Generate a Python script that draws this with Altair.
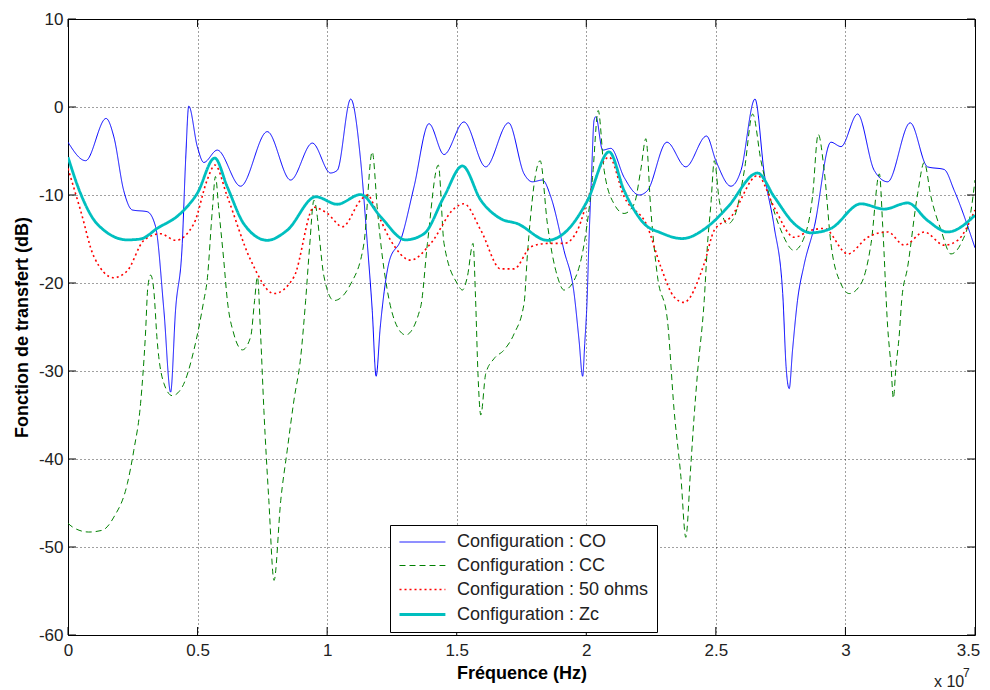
import altair as alt
import pandas as pd

# Frequencies in units of 10^7 Hz, transfer function in dB
co_x = [0, 0.068, 0.147, 0.177, 0.215, 0.248, 0.306, 0.338, 0.37, 0.396, 0.415, 0.441, 0.454, 0.466,
        0.499, 0.524, 0.576, 0.666, 0.769, 0.859, 0.943, 1.013, 1.039, 1.091, 1.129, 1.155, 1.174,
        1.189, 1.205, 1.22, 1.24, 1.284, 1.335, 1.393, 1.451, 1.528, 1.612, 1.700, 1.760, 1.792,
        1.831, 1.863, 1.914, 1.953, 1.972, 1.986, 1.994, 2.003, 2.01, 2.02, 2.03, 2.037, 2.063,
        2.095, 2.146, 2.204, 2.236, 2.311, 2.384, 2.464, 2.5, 2.558, 2.597, 2.651, 2.687, 2.725,
        2.758, 2.771, 2.783, 2.796, 2.815, 2.84, 2.88, 2.944, 2.983, 3.047, 3.111, 3.163, 3.250,
        3.317, 3.381, 3.42, 3.5]
co_y = [-4.0, -6.1, -1.3, -3.4, -9.5, -11.7, -11.9, -13.6, -23.1, -32.4, -23.1, -15.5, -6.0, 0.1,
        -4.5, -6.3, -4.9, -9.0, -2.8, -8.3, -4.1, -7.5, -7.2, 0.9, -6.0, -15.5, -23.1,
        -30.6, -25.0, -21.0, -17.5, -15.1, -9.1, -1.9, -5.4, -1.7, -6.8, -1.8, -7.6, -8.5,
        -8.3, -10.2, -16.3, -21.2, -26.5, -30.6, -26.9, -22.0, -15.5, -8.0, -1.5, -1.1, -4.9,
        -4.7, -8.0, -10.0, -9.5, -4.0, -6.8, -3.3, -6.1, -9.0, -7.2, 0.9, -7.6, -13.6,
        -21.2, -29.5, -32.0, -27.6, -22.0, -18.0, -13.6, -4.0, -4.5, -0.8, -7.2, -8.5, -1.8,
        -6.8, -7.1, -9.5, -16.0]

cc_x = [0, 0.016, 0.08, 0.132, 0.177, 0.229, 0.254, 0.28, 0.299, 0.308, 0.319, 0.331, 0.344, 0.370,
        0.402, 0.441, 0.486, 0.524, 0.537, 0.557, 0.569, 0.582, 0.601, 0.615, 0.64, 0.673, 0.705,
        0.72, 0.731, 0.743, 0.756, 0.775, 0.795, 0.821, 0.846, 0.872, 0.898, 0.917, 0.932, 0.949,
        0.988, 1.026, 1.091, 1.142, 1.174, 1.194, 1.207, 1.232, 1.271, 1.303, 1.361, 1.387, 1.429,
        1.451, 1.503, 1.522, 1.541, 1.563, 1.573, 1.582, 1.593, 1.612, 1.644, 1.683, 1.721, 1.760,
        1.773, 1.822, 1.850, 1.889, 1.914, 1.953, 1.992, 2.024, 2.046, 2.069, 2.107, 2.146, 2.185,
        2.210, 2.230, 2.249, 2.275, 2.313, 2.339, 2.365, 2.384, 2.403, 2.416, 2.429, 2.455, 2.468,
        2.481, 2.494, 2.513, 2.545, 2.571, 2.610, 2.642, 2.674, 2.712, 2.751, 2.802, 2.841, 2.873,
        2.895, 2.918, 2.944, 2.983, 3.015, 3.060, 3.099, 3.131, 3.144, 3.163, 3.176, 3.185, 3.195,
        3.208, 3.217, 3.240, 3.279, 3.304, 3.330, 3.369, 3.407, 3.446, 3.485, 3.5]
cc_y = [-47.3, -47.7, -48.3, -48.1, -46.6, -42.8, -39.0, -33.7, -25.8, -20.5, -19.1, -20.8, -26.5, -31.4,
        -32.8, -31.8, -27.6, -22.0, -19.7, -11.7, -7.9, -11.7, -17.4, -22.0, -25.8, -27.6, -26.1,
        -22.0, -19.3, -25.7, -34.5, -44.7, -53.8, -44.7, -39.0, -33.3, -28.4, -22.0, -16.0, -10.6,
        -19.3, -22.0, -20.1, -15.5, -5.1, -11.7, -15.5, -20.8, -25.0, -25.9, -22.7, -15.5, -6.6,
        -15.5, -20.1, -20.8, -19.3, -15.5, -22.0, -30.3, -35.0, -30.3, -28.6, -27.6, -25.8, -22.3,
        -16.7, -6.1, -13.3, -19.3, -20.8, -19.7, -15.5, -8.0, -0.4, -7.2, -11.0, -12.1, -11.0,
        -7.2, -3.6, -11.7, -19.3, -24.2, -34.5, -42.0, -48.9, -40.9, -35.2, -30.3, -22.0, -15.5,
        -11.0, -6.1, -10.6, -13.3, -12.5, -7.2, -0.8, -6.1, -10.6, -14.0, -16.3, -14.8, -10.2,
        -3.1, -7.2, -15.5, -20.1, -21.2, -20.1, -15.5, -7.6, -13.6, -25.0, -29.5, -33.1, -29.5,
        -25.8, -22.0, -18.2, -9.8, -6.3, -10.2, -14.0, -16.7, -15.5, -11.7, -8.3]

r50_x = [0, 0.048, 0.1, 0.177, 0.229, 0.293, 0.357, 0.415, 0.486, 0.537, 0.567, 0.615, 0.705, 0.795,
         0.872, 0.949, 1.001, 1.059, 1.129, 1.155, 1.194, 1.245, 1.322, 1.400, 1.490, 1.528, 1.593,
         1.670, 1.721, 1.786, 1.850, 1.914, 1.966, 2.017, 2.088, 2.146, 2.236, 2.288, 2.339, 2.376,
         2.455, 2.494, 2.558, 2.661, 2.725, 2.802, 2.867, 2.918, 3.009, 3.086, 3.163, 3.227, 3.304,
         3.381, 3.433, 3.5]
r50_y = [-7.0, -11.7, -17.0, -19.4, -18.6, -15.15, -14.4, -15.15, -13.25, -8.3, -6.6, -10.2, -17.4, -21.2,
         -19.3, -11.4, -12.1, -13.6, -10.6, -10.0, -12.1, -15.15, -17.4, -15.5, -11.55, -11.0, -14.0,
         -18.4, -18.4, -15.9, -15.5, -15.5, -14.0, -9.5, -5.7, -10.2, -13.6, -18.2, -21.6, -22.2,
         -17.8, -14.0, -12.5, -7.8, -11.4, -14.8, -14.0, -13.8, -16.7, -14.8, -14.2, -15.7, -14.2,
         -15.7, -15.15, -11.7]

zc_x = [0, 0.048, 0.113, 0.229, 0.28, 0.344, 0.434, 0.499, 0.566, 0.615, 0.679, 0.769, 0.846, 0.956,
        1.039, 1.129, 1.207, 1.303, 1.374, 1.451, 1.522, 1.593, 1.670, 1.734, 1.850, 1.927, 2.005,
        2.088, 2.146, 2.223, 2.288, 2.37, 2.468, 2.545, 2.661, 2.725, 2.802, 2.867, 2.944, 3.06,
        3.15, 3.24, 3.317, 3.395, 3.5]
zc_y = [-5.7, -9.8, -13.3, -15.1, -15.0, -13.8, -12.1, -9.8, -5.8, -9.1, -13.3, -15.15, -14.0, -10.2,
        -11.05, -9.95, -12.5, -15.1, -14.4, -10.2, -6.7, -10.6, -12.7, -13.25, -15.15, -14.0, -10.6,
        -5.1, -9.5, -13.25, -14.3, -14.95, -13.6, -11.4, -7.5, -10.2, -13.25, -14.3, -13.8, -11.0,
        -11.6, -10.9, -12.9, -14.2, -12.3]

series_names = ["Configuration : CO", "Configuration : CC",
                "Configuration : 50 ohms", "Configuration : Zc"]
series_colors = ["#0000FF", "#008000", "#FF0000", "#00BFBF"]
series_dash = [[1, 0], [6, 4], [2, 3], [1, 0]]
series_width = [1, 1, 1.6, 2.8]

x_ticks = [0, 0.5, 1, 1.5, 2, 2.5, 3, 3.5]
y_ticks = [-60, -50, -40, -30, -20, -10, 0, 10]

rows = []
for name, xs, ys in zip(series_names, [co_x, cc_x, r50_x, zc_x], [co_y, cc_y, r50_y, zc_y]):
    for i, (a, b) in enumerate(zip(xs, ys)):
        rows.append({"f": a, "db": b, "config": name, "order": i})
df = pd.DataFrame(rows)

W, H = 907, 616
FONT = "Liberation Sans"

xscale = alt.Scale(domain=[0, 3.5], nice=False, zero=False)
yscale = alt.Scale(domain=[-60, 10], nice=False, zero=False)

# legend symbol: a horizontal stroke ~46px long, laid out as a 17px symbol
legend = alt.Legend(
    orient="none", legendX=322, legendY=506, title=None,
    symbolType="M-1,0H4.4", symbolSize=289, labelFont=FONT, labelFontSize=18,
    labelColor="#222222", padding=8, rowPadding=5.5, labelOffset=39, labelLimit=400,
    strokeColor="black", fillColor="white", symbolFillColor="transparent",
)

xaxis = alt.Axis(values=x_ticks, labelExpr="datum.value + ''", title="Fréquence (Hz)",
                 grid=True, gridDash=[1, 3], gridColor="#000000", gridOpacity=0.75,
                 ticks=False, domain=False, labelPadding=7, labelFlush=False, labelFont=FONT,
                 labelFontSize=17, labelColor="#222222", titleFont=FONT,
                 titleFontSize=18, titleFontWeight="bold", titleColor="#000000",
                 titlePadding=6,
                 labelOffset={"condition": {"test": "datum.value == 3.5", "value": -7}, "value": 0})
yaxis = alt.Axis(values=y_ticks, labelExpr="datum.value + ''",
                 title="Fonction de transfert (dB)",
                 grid=True, gridDash=[1, 3], gridColor="#000000", gridOpacity=0.75,
                 ticks=False, domain=False, labelPadding=5, labelFont=FONT,
                 labelFontSize=17, labelColor="#222222", titleFont=FONT,
                 titleFontSize=18, titleFontWeight="bold", titleColor="#000000",
                 titlePadding=7)

lines = alt.Chart(df).mark_line(interpolate="monotone", clip=True).encode(
    x=alt.X("f:Q", scale=xscale, axis=xaxis),
    y=alt.Y("db:Q", scale=yscale, axis=yaxis),
    color=alt.Color("config:N", scale=alt.Scale(domain=series_names, range=series_colors),
                    legend=legend),
    strokeDash=alt.StrokeDash("config:N", scale=alt.Scale(domain=series_names, range=series_dash),
                              legend=legend),
    strokeWidth=alt.StrokeWidth("config:N",
                                scale=alt.Scale(type="ordinal", domain=series_names, range=series_width),
                                legend=legend),
    order="order:Q",
)

xt = pd.DataFrame({"f": x_ticks})
yt = pd.DataFrame({"db": y_ticks})
TL = 8
xtick_bottom = alt.Chart(xt).mark_rule(color="black", strokeWidth=1).encode(
    x=alt.X("f:Q", scale=xscale, axis=xaxis), y=alt.value(H), y2=alt.value(H - TL))
xtick_top = alt.Chart(xt).mark_rule(color="black", strokeWidth=1).encode(
    x=alt.X("f:Q", scale=xscale, axis=xaxis), y=alt.value(0), y2=alt.value(TL))
ytick_left = alt.Chart(yt).mark_rule(color="black", strokeWidth=1).encode(
    y=alt.Y("db:Q", scale=yscale, axis=yaxis), x=alt.value(0), x2=alt.value(TL))
ytick_right = alt.Chart(yt).mark_rule(color="black", strokeWidth=1).encode(
    y=alt.Y("db:Q", scale=yscale, axis=yaxis), x=alt.value(W - TL), x2=alt.value(W))

exp_base = alt.Chart(pd.DataFrame({"t": ["x 10"]})).mark_text(
    font=FONT, fontSize=16, color="#222222", align="left", baseline="alphabetic").encode(
    text="t:N", x=alt.value(866), y=alt.value(668))
exp_sup = alt.Chart(pd.DataFrame({"t": ["7"]})).mark_text(
    font=FONT, fontSize=12, color="#222222", align="left", baseline="alphabetic").encode(
    text="t:N", x=alt.value(895), y=alt.value(658))

chart = alt.layer(lines, xtick_bottom, xtick_top, ytick_left, ytick_right, exp_base, exp_sup).properties(
    width=W, height=H,
    autosize=alt.AutoSizeParams(type="none"),
    padding={"left": 60, "top": 11, "right": 7, "bottom": 55},
    background="white",
).configure_view(stroke="black", strokeWidth=1)

chart.save("out.html", embed_options={"renderer": "svg", "actions": False})
